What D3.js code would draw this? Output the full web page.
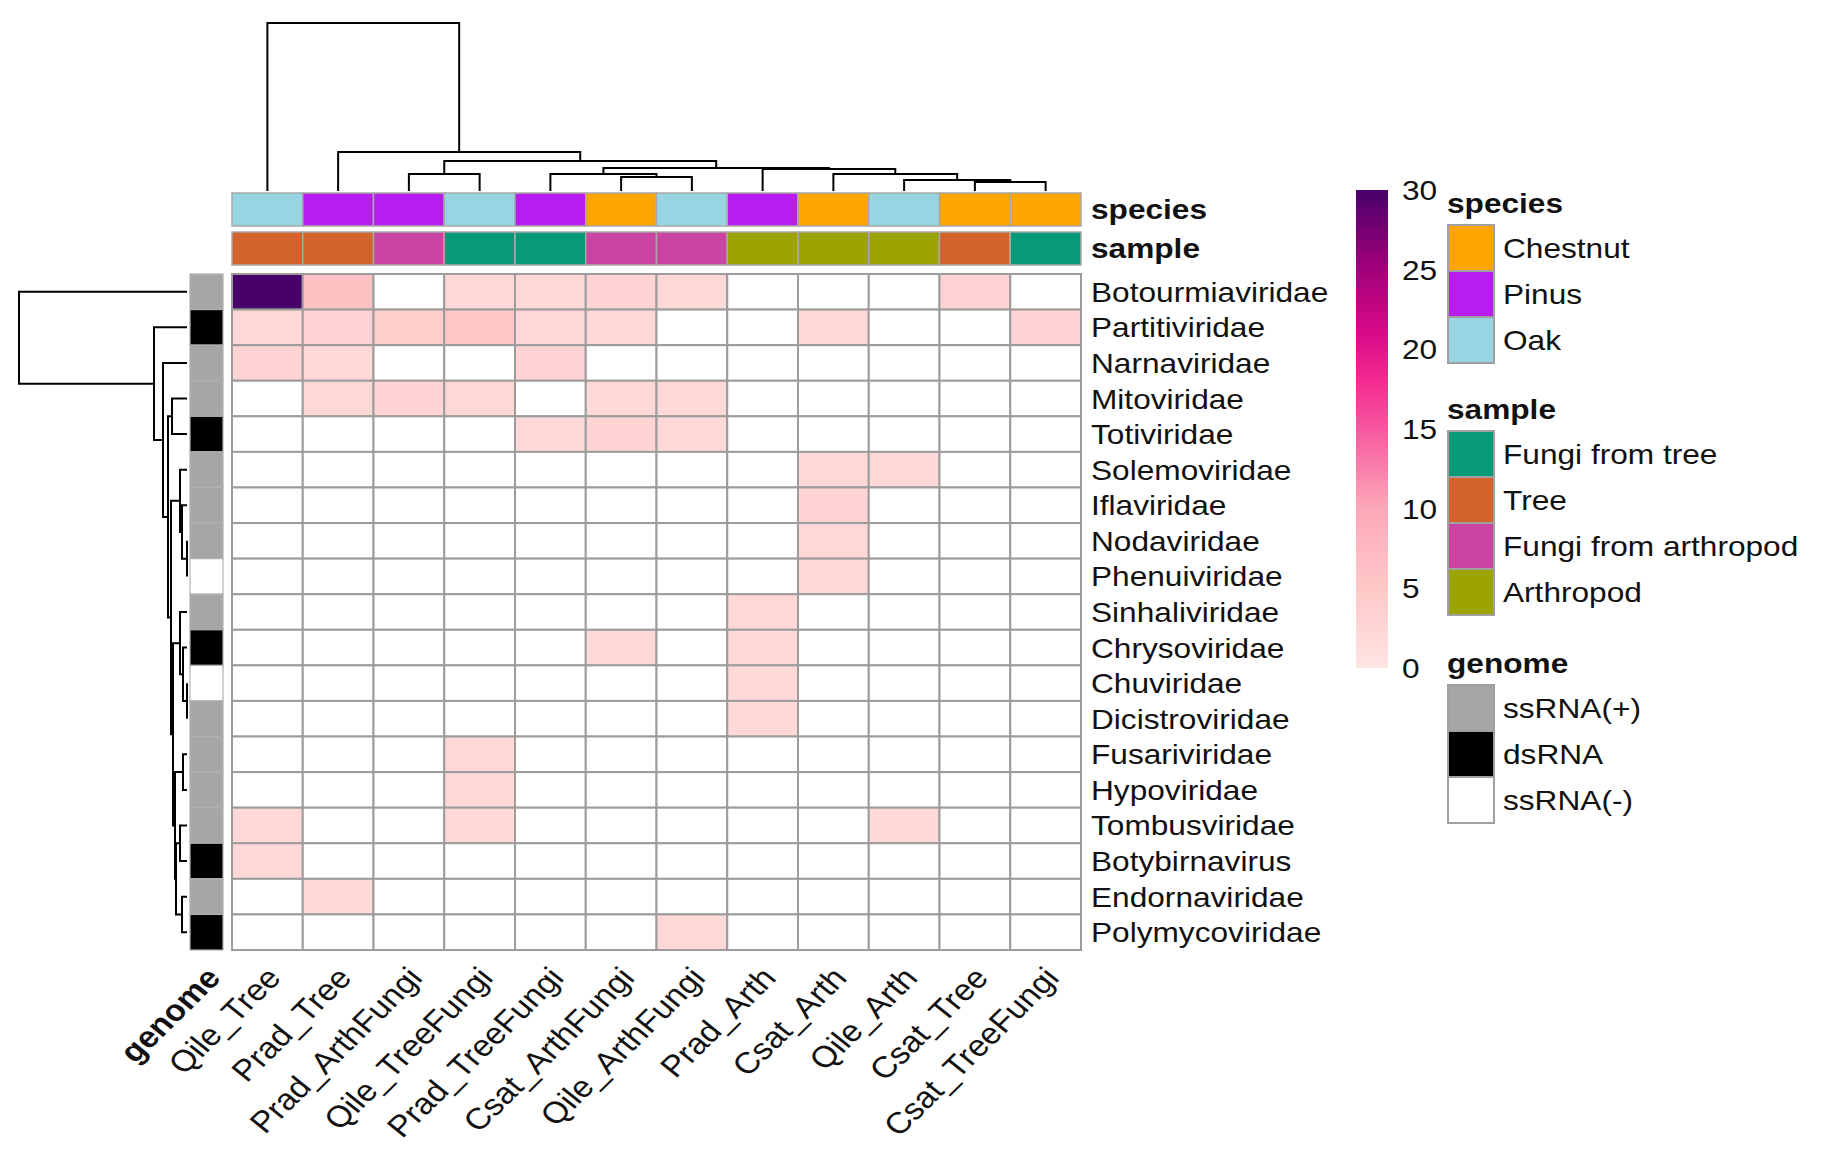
<!DOCTYPE html>
<html><head><meta charset="utf-8">
<script src="https://cdn.jsdelivr.net/npm/d3@7"></script>
<style>
html,body{margin:0;padding:0;background:#fff;}
svg{display:block;font-family:"Liberation Sans",Arial,sans-serif;}
</style></head>
<body><svg id="chart" width="1832" height="1157"></svg>
<script>
// ---------------- data ----------------
const columns = ["Qile_Tree","Prad_Tree","Prad_ArthFungi","Qile_TreeFungi","Prad_TreeFungi","Csat_ArthFungi","Qile_ArthFungi","Prad_Arth","Csat_Arth","Qile_Arth","Csat_Tree","Csat_TreeFungi"];
const rows = ["Botourmiaviridae","Partitiviridae","Narnaviridae","Mitoviridae","Totiviridae","Solemoviridae","Iflaviridae","Nodaviridae","Phenuiviridae","Sinhaliviridae","Chrysoviridae","Chuviridae","Dicistroviridae","Fusariviridae","Hypoviridae","Tombusviridae","Botybirnavirus","Endornaviridae","Polymycoviridae"];
const N = null;
const values = [
  [30, 6, N, 2, 2, 3, 2, N, N, N, 3, N],
  [ 2, 3, 4, 5, 2, 2.5, N, N, 2.5, N, N, 3],
  [ 3, 2, N, N, 3, N, N, N, N, N, N, N],
  [ N, 2.5, 3, 2.5, N, 2, 2, N, N, N, N, N],
  [ N, N, N, N, 2, 3, 2, N, N, N, N, N],
  [ N, N, N, N, N, N, N, N, 2, 2, N, N],
  [ N, N, N, N, N, N, N, N, 3, N, N, N],
  [ N, N, N, N, N, N, N, N, 2.5, N, N, N],
  [ N, N, N, N, N, N, N, N, 2.5, N, N, N],
  [ N, N, N, N, N, N, N, 2, N, N, N, N],
  [ N, N, N, N, N, 2, N, 2, N, N, N, N],
  [ N, N, N, N, N, N, N, 2, N, N, N, N],
  [ N, N, N, N, N, N, N, 2, N, N, N, N],
  [ N, N, N, 2, N, N, N, N, N, N, N, N],
  [ N, N, N, 2, N, N, N, N, N, N, N, N],
  [ 2, N, N, 2, N, N, N, N, N, 2, N, N],
  [ 2, N, N, N, N, N, N, N, N, N, N, N],
  [ N, 2, N, N, N, N, N, N, N, N, N, N],
  [ N, N, N, N, N, N, 2, N, N, N, N, N]
];
const species = ["Oak","Pinus","Pinus","Oak","Pinus","Chestnut","Oak","Pinus","Chestnut","Oak","Chestnut","Chestnut"];
const sample = ["Tree","Tree","Fungi from arthropod","Fungi from tree","Fungi from tree","Fungi from arthropod","Fungi from arthropod","Arthropod","Arthropod","Arthropod","Tree","Fungi from tree"];
const genome = ["ssRNA(+)","dsRNA","ssRNA(+)","ssRNA(+)","dsRNA","ssRNA(+)","ssRNA(+)","ssRNA(+)","ssRNA(-)","ssRNA(+)","dsRNA","ssRNA(-)","ssRNA(+)","ssRNA(+)","ssRNA(+)","ssRNA(+)","dsRNA","ssRNA(+)","dsRNA"];

const speciesLevels = ["Chestnut","Pinus","Oak"];
const speciesColors = ["#FFA500","#B81DEF","#97D5E3"];
const sampleLevels = ["Fungi from tree","Tree","Fungi from arthropod","Arthropod"];
const sampleColors = ["#069A78","#D3622B","#CA45A1","#9CA500"];
const genomeLevels = ["ssRNA(+)","dsRNA","ssRNA(-)"];
const genomeColors = ["#A6A6A6","#000000","#FFFFFF"];

const heatStops = [0, 5, 10, 15, 18, 21, 25, 30];
const heatColors = ["#FFE5E2","#FFC8C8","#FCA8B8","#F7589F","#F42A90","#D90A88","#A3007B","#49006A"];
const legendTicks = [0, 5, 10, 15, 20, 25, 30];

// hclust-style merges (negative = leaf index, 1-based; positive = earlier merge)
const colMerge = [[-11,-12],[-10,1],[-6,-7],[-9,2],[-3,-4],[-5,3],[-8,4],[6,7],[5,8],[-2,9],[-1,10]];
const colHeight = [9, 11, 14, 17, 17, 17, 22, 23, 30, 39, 168];
const rowMerge = [[-8,-9],[-12,-13],[-11,2],[-14,-15],[-7,1],[-18,-19],[-6,5],[-10,3],[-16,-17],[9,6],[4,10],[8,11],[-4,-5],[7,12],[13,14],[-3,15],[-2,16],[-1,17]];
const rowHeight = [0, 0, 4, 4, 5, 5, 7, 7, 7, 11, 12, 14, 15, 16, 19, 24, 33, 168];

// ---------------- layout ----------------
const SX = 1.13; // horizontal text stretch
const svg = d3.select("#chart");
const x = d3.scaleBand().domain(columns).range([232, 1081]);
const y = d3.scaleBand().domain(rows).range([274, 950]);
const color = d3.scaleLinear().domain(heatStops).range(heatColors).clamp(true);
const spColor = d3.scaleOrdinal().domain(speciesLevels).range(speciesColors);
const saColor = d3.scaleOrdinal().domain(sampleLevels).range(sampleColors);
const geColor = d3.scaleOrdinal().domain(genomeLevels).range(genomeColors);
const gridStroke = "#9C9C9C";

function txt(g, xx, yy, s, opts={}) {
  const t = g.append("text")
    .attr("transform", `translate(${xx},${yy}) scale(${SX},1)` + (opts.rot ? ` rotate(${opts.rot})` : ""))
    .attr("font-size", opts.size || 28)
    .attr("fill", "#111")
    .attr("text-anchor", opts.anchor || "start")
    .text(s);
  if (opts.bold) t.attr("font-weight", "bold");
  return t;
}

// heatmap cells
const cells = [];
values.forEach((r, i) => r.forEach((v, j) => cells.push({r: rows[i], c: columns[j], v})));
svg.append("g").selectAll("rect").data(cells).join("rect")
  .attr("x", d => x(d.c)).attr("y", d => y(d.r))
  .attr("width", x.bandwidth()).attr("height", y.bandwidth())
  .attr("fill", d => d.v == null ? "#FFFFFF" : color(d.v))
  .attr("stroke", gridStroke).attr("stroke-width", 2);

// column annotations
const annG = svg.append("g");
annG.selectAll("rect.sp").data(columns).join("rect").attr("class","sp")
  .attr("x", d => x(d)).attr("y", 193).attr("width", x.bandwidth()).attr("height", 33)
  .attr("fill", (d,i) => spColor(species[i])).attr("stroke", "#A8A8A8").attr("stroke-width", 1.5);
annG.selectAll("rect.sa").data(columns).join("rect").attr("class","sa")
  .attr("x", d => x(d)).attr("y", 232).attr("width", x.bandwidth()).attr("height", 33)
  .attr("fill", (d,i) => saColor(sample[i])).attr("stroke", "#A8A8A8").attr("stroke-width", 1.5);
txt(svg, 1091, 219, "species", {bold: true});
txt(svg, 1091, 258, "sample", {bold: true});

// row annotation (genome)
svg.append("g").selectAll("rect").data(rows).join("rect")
  .attr("x", 190).attr("y", d => y(d)).attr("width", 33).attr("height", y.bandwidth())
  .attr("fill", (d,i) => geColor(genome[i])).attr("stroke", "#B0B0B0").attr("stroke-width", 1.2);

// row labels
rows.forEach(r => txt(svg, 1091, y(r) + y.bandwidth()/2 + 10, r));

// column labels
columns.forEach(c => txt(svg, x(c) + x.bandwidth()/2 + 15, 979, c, {anchor: "end", rot: -48, size: 30}));
txt(svg, 222, 979, "genome", {anchor: "end", rot: -48, bold: true, size: 30});

// dendrograms
function dendro(merge, heights, leafPos, hScale, vertical) {
  const pos = [], hh = [];
  const get = k => k < 0 ? [leafPos(-k - 1), 0] : [pos[k - 1], hh[k - 1]];
  const g = svg.append("g").attr("fill", "none").attr("stroke", "#000").attr("stroke-width", 2);
  merge.forEach((m, i) => {
    const [p1, h1] = get(m[0]), [p2, h2] = get(m[1]);
    const h = heights[i];
    pos.push((p1 + p2) / 2); hh.push(h);
    const H = hScale(h), H1 = hScale(h1), H2 = hScale(h2);
    const path = d3.path();
    if (vertical) { path.moveTo(p1, H1); path.lineTo(p1, H); path.lineTo(p2, H); path.lineTo(p2, H2); }
    else { path.moveTo(H1, p1); path.lineTo(H, p1); path.lineTo(H, p2); path.lineTo(H2, p2); }
    g.append("path").attr("d", path.toString());
  });
}
dendro(colMerge, colHeight, i => x(columns[i]) + x.bandwidth()/2, d3.scaleLinear().domain([0,168]).range([191,23]), true);
dendro(rowMerge, rowHeight, i => y(rows[i]) + y.bandwidth()/2, d3.scaleLinear().domain([0,168]).range([187,19]), false);

// colour bar legend
const defs = svg.append("defs");
const grad = defs.append("linearGradient").attr("id","hg").attr("x1",0).attr("y1",1).attr("x2",0).attr("y2",0);
heatStops.forEach((s, i) => grad.append("stop").attr("offset", s/30).attr("stop-color", heatColors[i]));
const ly = d3.scaleLinear().domain([0,30]).range([668,190]);
svg.append("rect").attr("x",1356).attr("y",190).attr("width",32).attr("height",478).attr("fill","url(#hg)");
legendTicks.forEach(t => txt(svg, 1402, ly(t) + 10, String(t)));

// discrete legends
function legend(title, levels, cols, top) {
  txt(svg, 1447, top, title, {bold: true});
  const h = 46, y0 = top + 12;
  levels.forEach((l, i) => {
    svg.append("rect").attr("x", 1448).attr("y", y0 + i*h).attr("width", 46).attr("height", h)
      .attr("fill", cols[i]).attr("stroke", "#A0A0A0").attr("stroke-width", 2);
    txt(svg, 1503, y0 + i*h + h/2 + 10, l);
  });
}
legend("species", speciesLevels, speciesColors, 213);
legend("sample", sampleLevels, sampleColors, 419);
legend("genome", genomeLevels, genomeColors, 673);
</script></body></html>
